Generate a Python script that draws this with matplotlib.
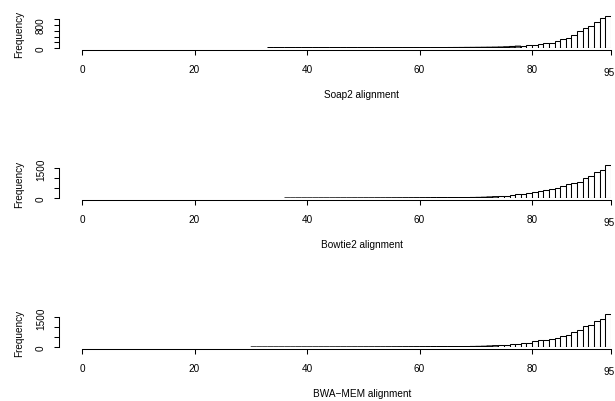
import numpy as np
import matplotlib.pyplot as plt
import matplotlib.transforms as mtransforms

plt.rcParams['font.family'] = ['Liberation Sans', 'DejaVu Sans']

W, H, DPI = 615, 402, 100

# counts per unit-wide bin, listed from the first non-empty bin
soap2_start = 33
soap2_counts = [1, 1, 1, 2, 2, 2, 2, 2, 3, 3, 3, 3, 3, 4, 4, 4, 5, 5,
                6, 6, 7, 7, 7, 8, 8, 9, 9, 10, 10, 11, 12, 13, 14, 15, 16, 18, 19, 21,
                23, 25, 28, 32, 40, 50, 62, 75, 90, 110, 135, 160, 190, 240, 310, 360,
                440, 580, 690, 770, 900, 1060, 1120]

bowtie2_start = 36
bowtie2_counts = [1, 1, 2, 2, 2, 2, 3, 3, 3, 4, 4, 4, 5, 5, 6,
                  6, 7, 7, 8, 9, 10, 11, 12, 13, 14, 15, 17, 19, 21, 23, 26, 29, 33, 37, 42,
                  50, 65, 80, 100, 130, 170, 200, 230, 270, 320, 370, 400, 470, 500, 600,
                  700, 770, 830, 1030, 1100, 1330, 1430, 1680]

bwamem_start = 30
bwamem_counts = [1, 1, 1, 2, 2, 2, 2, 2, 3, 3, 3, 3, 4, 4, 4, 5, 5, 5, 6, 6, 7,
                 7, 8, 8, 9, 10, 11, 12, 13, 14, 15, 16, 18, 20, 22, 24, 27, 30, 34, 38, 43,
                 50, 65, 80, 100, 115, 150, 180, 215, 230, 320, 350, 380, 430, 470, 580,
                 630, 770, 850, 1050, 1130, 1320, 1430, 1680]

x_ticks = [0, 20, 40, 60, 80, 94]
x_ticklabels = ['0', '20', '40', '60', '80', '95']

panels = [
    ('Soap2 alignment', soap2_start, soap2_counts, [0, 200, 400, 600, 800, 1000],
     ['0', '', '', '', '800', '']),
    ('Bowtie2 alignment', bowtie2_start, bowtie2_counts, [0, 500, 1000, 1500],
     ['0', '', '', '1500']),
    ('BWA\u2212MEM alignment', bwamem_start, bwamem_counts, [0, 500, 1000, 1500],
     ['0', '', '', '1500']),
]

# pixel layout: baseline row, px per count, y limit
layout = [(49.0, 0.0287, 1200), (199.3, 0.020, 1750), (348.3, 0.020, 1750)]

px = 72.0 / DPI  # points per pixel
x0_px, x_scale = 82.0, 5.625
fs = 7.2

fig = plt.figure(figsize=(W / DPI, H / DPI), dpi=DPI)

for (label, start, counts, yt, ytl), (base, yscale, ymax) in zip(panels, layout):
    h = ymax * yscale
    ax = fig.add_axes([x0_px / W, 1 - base / H, 94 * x_scale / W, h / H])
    edges = np.arange(start, start + len(counts))
    bars = ax.bar(edges, counts, width=1.0, align='edge', color='white',
                  edgecolor='black', linewidth=0.75)
    # flat bars vanish when snapped to the pixel grid
    for b, c in zip(bars, counts):
        if c * yscale < 2:
            b.set_snap(False)
            b.set_linewidth(0.9)
    ax.set_xlim(0, 94)
    ax.set_ylim(0, ymax)
    ax.patch.set_visible(False)

    for s in ['top', 'right']:
        ax.spines[s].set_visible(False)
    ax.spines['left'].set_position(('outward', 23 * px))
    ax.spines['bottom'].set_position(('outward', 1.6 * px))
    ax.spines['left'].set_bounds(0, yt[-1])
    ax.spines['bottom'].set_bounds(0, 94)
    for s in ['left', 'bottom']:
        ax.spines[s].set_linewidth(0.75)

    ax.set_xticks(x_ticks)
    ax.set_xticklabels(x_ticklabels)
    ax.set_yticks(yt)
    ax.set_yticklabels(ytl, rotation=90, va='center')
    ax.tick_params(length=5 * px, width=0.75, labelsize=fs, direction='out')
    ax.tick_params(axis='x', pad=9 * px)
    ax.tick_params(axis='y', pad=8 * px)
    last = ax.xaxis.get_major_ticks()[-1]
    last.set_pad(12 * px)
    last.label1.set_transform(last.label1.get_transform() +
                              mtransforms.ScaledTranslation(-2 / DPI, 0, fig.dpi_scale_trans))

    fig.text(362 / W, 1 - (base + 46) / H, label, ha='center', va='center', fontsize=fs)
    fig.text(19 / W, 1 - (base - 15) / H, 'Frequency', rotation=90,
             ha='center', va='center', fontsize=fs)

fig.savefig('out.png', dpi=DPI)
